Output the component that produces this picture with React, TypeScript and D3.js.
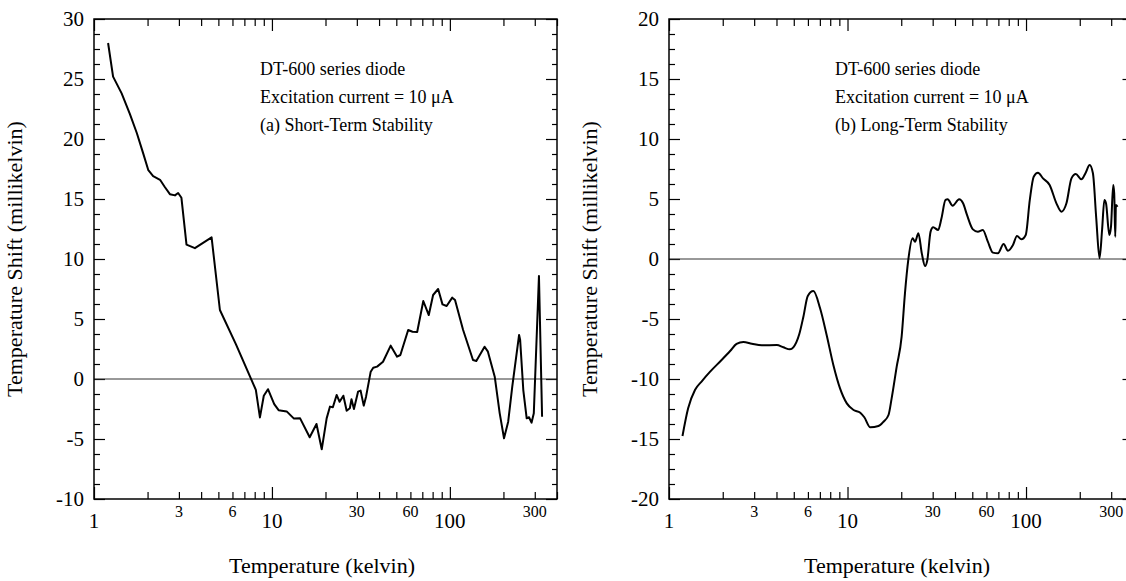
import * as d3 from "d3";
import { useEffect, useRef } from "react";

// (a) short-term stability: temperature (K) and shift (mK)
const shortTemp = [
  1.2, 1.28, 1.43, 1.59, 1.74, 1.89, 2.02, 2.15, 2.35, 2.5, 2.67, 2.85, 2.97, 3.1,
  3.31, 3.69, 4.58, 5.1, 6.27, 8.12, 8.56, 9.0, 9.5, 10.3, 10.9, 12.1, 13.3, 14.4,
  16.3, 17.8, 19.05, 20.3, 21.2, 22.0, 23.1, 24.0, 25.2, 26.3, 27.4, 28.0, 28.9,
  30.5, 31.5, 32.8, 33.8, 35.9, 37.1, 39, 42.1, 46.5, 50.5, 52.7, 58.3, 61.7, 65.5,
  70.9, 76.1, 80.5, 85.9, 90.9, 95.9, 103.1, 106.9, 118.7, 134.9, 140.8, 156.7,
  163.6, 178.7, 190.6, 201.5, 212.7, 224.2, 244.9, 248.3, 258.6, 270.2, 278.5,
  287.7, 296.3, 316.7, 329.8,
];
const shortShift = [
  28.0, 25.2, 23.8, 22.1, 20.5, 18.8, 17.4, 16.9, 16.6, 16.0, 15.4, 15.3, 15.5, 15.1,
  11.2, 10.9, 11.8, 5.75, 2.9, -0.9, -3.2, -1.4, -0.85, -2.1, -2.6, -2.7, -3.3, -3.28,
  -4.86, -3.75, -5.86, -3.28, -2.3, -2.36, -1.33, -1.9, -1.39, -2.64, -2.44, -1.69, -2.5,
  -1.05, -0.97, -2.22, -1.47, 0.61, 0.94, 1.03, 1.44, 2.78, 1.86, 2.0, 4.08, 3.94, 3.92,
  6.5, 5.33, 7.0, 7.5, 6.22, 6.08, 6.78, 6.58, 4.08, 1.58, 1.5, 2.69,
  2.28, 0.19, -2.86, -4.94, -3.56, -0.64, 3.67, 3.25, -0.92, -3.28, -3.19,
  -3.64, -2.86, 8.58, -3.14,
];

// (b) long-term stability
const longTemp = [
  1.19, 1.28, 1.4, 1.53, 1.7, 1.97, 2.2, 2.39, 2.61, 2.91, 3.31, 4.02, 4.37, 4.76,
  4.97, 5.37, 5.66, 5.99, 6.44, 7.02, 7.64, 8.33, 9.08, 9.91, 10.81, 11.79, 12.42,
  13.42, 14.9, 15.9, 16.97, 17.67, 18.86, 20.1, 20.98, 21.9, 23.15, 23.9, 24.95,
  26.07, 27.2, 28.0, 29.2, 30.2, 32.2, 33.6, 35.4, 36.4, 38.8, 42.2, 44.4, 46.7,
  50.4, 53.7, 57.3, 61.1, 65.2, 69.6, 74.9, 79.2, 84.5, 89.0, 94.2, 99.6, 105.0,
  110.4, 116.7, 124.5, 135.6, 148.0, 157.9, 168.4, 179.7, 190.0, 204.1, 215.9,
  227.1, 237.0, 247.4, 258.1, 266.7, 274.7, 280.6, 292.9, 299.2, 307.9, 311.9,
  316.1, 318.8, 325.7,
];
const longShift = [
  -14.75, -12.44, -10.9, -10.17, -9.39, -8.42, -7.67, -7.08, -6.92, -7.06, -7.19, -7.17,
  -7.36, -7.53, -7.36, -6.25, -4.81, -3.08, -2.67, -4.11, -6.33, -8.83, -10.78, -12.03,
  -12.58, -12.81, -13.19, -14.03, -13.92, -13.56, -13.0, -11.61, -8.97, -6.47, -2.86,
  -0.08, 1.72, 1.44, 2.14, 0.47, -0.58, -0.08, 2.28, 2.64, 2.42, 3.39, 4.92, 4.97,
  4.44, 4.97, 4.64, 3.67, 2.47, 2.28, 2.42, 1.44, 0.53, 0.47, 1.25, 0.69, 1.17, 1.92,
  1.64, 2.0, 4.92, 6.86, 7.19, 6.72, 6.17, 4.64, 3.94, 4.64, 6.72, 7.08, 6.64, 7.19,
  7.83, 7.14, 3.39, 0.06, 2.42, 4.92, 4.64, 2.0, 2.69, 6.17, 5.47, 1.86, 4.5, 4.36,
];

const majorX = [1, 10, 100];
const minorX = [2, 3, 4, 5, 6, 7, 8, 9, 20, 30, 40, 50, 60, 70, 80, 90, 200, 300, 400];
const labelMinorX = [3, 6, 30, 60, 300];

const FONT = "'Liberation Serif', 'Times New Roman', serif";

type Panel = {
  left: number;
  width: number;
  yMin: number;
  yMax: number;
  temp: number[];
  shift: number[];
  note: string;
  smooth: boolean;
};

const panels: Panel[] = [
  { left: 94, width: 463, yMin: -10, yMax: 30, temp: shortTemp, shift: shortShift, note: "(a) Short-Term Stability", smooth: false },
  { left: 669, width: 464.5, yMin: -20, yMax: 20, temp: longTemp, shift: longShift, note: "(b) Long-Term Stability", smooth: true },
];

const top = 19;
const height = 480;

export default function App() {
  const ref = useRef<SVGSVGElement>(null);

  useEffect(() => {
    const svg = d3.select(ref.current);
    svg.selectAll("*").remove();

    panels.forEach((p) => {
      const g = svg.append("g").attr("transform", `translate(${p.left},${top})`);
      const x = d3.scaleLog().domain([1, 400]).range([0, p.width]);
      const y = d3.scaleLinear().domain([p.yMin, p.yMax]).range([height, 0]);

      const yMajor = d3.range(p.yMin, p.yMax + 0.01, 5);
      const yMinor = d3.range(p.yMin, p.yMax + 0.01, 1.25).filter((v) => !yMajor.includes(v));

      const tidy = (sel: any) => {
        sel.select(".domain").remove();
        sel.selectAll("line").attr("stroke", "#000").attr("stroke-width", 1.2);
        sel.selectAll("text").remove();
      };

      // bottom ticks (pointing in)
      g.append("g").attr("transform", `translate(0,${height})`)
        .call(d3.axisTop(x).tickValues(minorX).tickSize(7).tickFormat(() => "")).call(tidy);
      g.append("g").attr("transform", `translate(0,${height})`)
        .call(d3.axisTop(x).tickValues(majorX).tickSize(12).tickFormat(() => "")).call(tidy);
      // top ticks
      g.append("g").call(d3.axisBottom(x).tickValues(minorX).tickSize(7).tickFormat(() => "")).call(tidy);
      g.append("g").call(d3.axisBottom(x).tickValues(majorX).tickSize(12).tickFormat(() => "")).call(tidy);
      // left ticks
      g.append("g").call(d3.axisRight(y).tickValues(yMinor).tickSize(6).tickFormat(() => "")).call(tidy);
      g.append("g").call(d3.axisRight(y).tickValues(yMajor).tickSize(11).tickFormat(() => "")).call(tidy);
      // right ticks
      g.append("g").attr("transform", `translate(${p.width},0)`)
        .call(d3.axisLeft(y).tickValues(yMinor).tickSize(5).tickFormat(() => "")).call(tidy);
      g.append("g").attr("transform", `translate(${p.width},0)`)
        .call(d3.axisLeft(y).tickValues(yMajor).tickSize(11).tickFormat(() => "")).call(tidy);

      // x labels
      g.selectAll(".xmaj").data(majorX).join("text")
        .attr("x", (d) => x(d)).attr("y", height + 29)
        .attr("text-anchor", "middle").attr("font-size", 21).attr("font-family", FONT)
        .text((d) => String(d));
      g.selectAll(".xmin").data(labelMinorX).join("text")
        .attr("x", (d) => x(d)).attr("y", height + 18)
        .attr("text-anchor", "middle").attr("font-size", 16).attr("font-family", FONT)
        .text((d) => String(d));

      // y labels
      g.selectAll(".ylab").data(yMajor).join("text")
        .attr("x", -10).attr("y", (d) => y(d)).attr("dy", "0.35em")
        .attr("text-anchor", "end").attr("font-size", 21).attr("font-family", FONT)
        .text((d) => String(d));

      // zero line
      g.append("line").attr("x1", 0).attr("x2", p.width).attr("y1", y(0)).attr("y2", y(0))
        .attr("stroke", "#333").attr("stroke-width", 1);

      // frame
      g.append("rect").attr("width", p.width).attr("height", height)
        .attr("fill", "none").attr("stroke", "#000").attr("stroke-width", 1.5);

      // curve
      const pts = p.temp.map((t, i) => [t, p.shift[i]] as [number, number]);
      const line = d3.line<[number, number]>()
        .x((d) => x(d[0])).y((d) => y(d[1]))
        .curve(p.smooth ? d3.curveMonotoneX : d3.curveLinear);
      g.append("path").datum(pts).attr("d", line).attr("fill", "none")
        .attr("stroke", "#000").attr("stroke-width", 2).attr("stroke-linejoin", "round");

      // notes
      const notes = ["DT-600 series diode", "Excitation current = 10 \u03bcA", p.note];
      g.selectAll(".note").data(notes).join("text")
        .attr("x", 166).attr("y", (_, i) => 56 + i * 28)
        .attr("font-size", 18).attr("font-family", FONT)
        .text((d) => d);

      // axis titles
      g.append("text").attr("x", 228).attr("y", height + 74)
        .attr("text-anchor", "middle").attr("font-size", 22).attr("font-family", FONT)
        .text("Temperature (kelvin)");
      g.append("text").attr("transform", `translate(-72,${height / 2}) rotate(-90)`)
        .attr("text-anchor", "middle").attr("font-size", 22).attr("font-family", FONT)
        .text("Temperature Shift (millikelvin)");
    });
  }, []);

  return (
    <svg ref={ref} width={1126} height={581}
      style={{ position: "absolute", left: 0, top: 0, background: "#fff" }} />
  );
}
